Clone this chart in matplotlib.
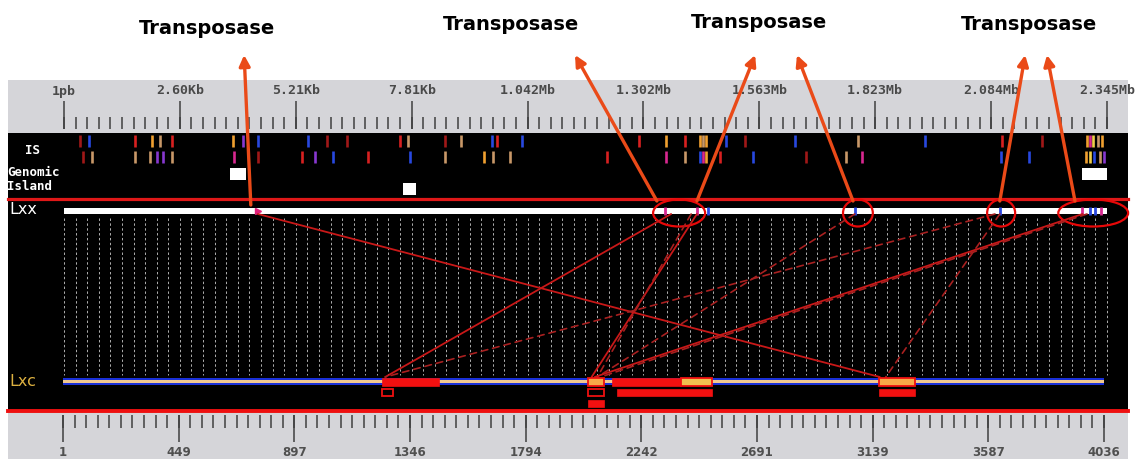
import matplotlib
matplotlib.use('Agg')
import matplotlib.pyplot as plt
from matplotlib.patches import Rectangle, Ellipse, ConnectionPatch
import numpy as np

W, H = 1135, 459

# ---- genome sizes (kb) ----
LXX_LEN = 2345
LXC_LEN = 4036

lxx_ticklabels = ['1pb', '2.60Kb', '5.21Kb', '7.81Kb', '1.042Mb', '1.302Mb',
                  '1.563Mb', '1.823Mb', '2.084Mb', '2.345Mb']
lxc_ticks = [1, 449, 897, 1346, 1794, 2242, 2691, 3139, 3587, 4036]

# IS elements on Lxx (kb), two rows
is_row1_pos = [36, 56, 160, 198, 216, 243, 380, 402, 436, 549, 591, 636, 755, 773,
               857, 893, 962, 974, 1030, 1293, 1354, 1396, 1430, 1437, 1443, 1488,
               1531, 1644, 1785, 1936, 2109, 2199, 2300, 2307, 2314, 2325, 2334]
is_row1_fam = ['dr', 'b', 'r', 'o', 't', 'r', 'o', 'p', 'b', 'b', 'dr', 'dr', 'r', 't',
               'dr', 't', 'b', 'r', 'b', 'r', 'o', 'r', 'o', 't', 'o', 'b',
               'dr', 'b', 't', 'b', 'r', 'dr', 'o', 'm', 'y', 't', 'o']
is_row2_pos = [43, 63, 160, 193, 209, 223, 243, 382, 436, 535, 564, 605, 684, 778,
               857, 944, 965, 1003, 1221, 1354, 1396, 1430, 1437, 1443, 1475, 1549,
               1668, 1758, 1794, 2107, 2170, 2298, 2307, 2316, 2329, 2338]
is_row2_fam = ['dr', 't', 't', 't', 'p', 'p', 't', 'm', 'dr', 'r', 'p', 'b', 'r', 'b',
               't', 'o', 't', 't', 'r', 'm', 't', 'b', 'm', 'o', 'r', 'b',
               'dr', 't', 'm', 'b', 'b', 'o', 'y', 'b', 't', 'p']

# genomic islands on Lxx (kb start, end, lane)
island_start = [373, 762, 2289]
island_end = [409, 791, 2345]
island_lane = [0, 1, 0]

# features marked on the Lxx line
lxx_mark_pos = [1351, 1423, 1448, 1778, 2104, 2289, 2307, 2318, 2332]
lxx_mark_fam = ['m', 'm', 'b', 'b', 'b', 'm', 'b', 'b', 'm']
lxx_tri_pos = [436]

# transposase circles on Lxx (centre kb, width kb)
circle_pos = [1383, 1785, 2107, 2314]
circle_w = [117, 67, 63, 157]

# arrows: from Lxx position to label
arrow_from = [420, 1333, 1423, 1774, 2104, 2273]
arrow_to = [405, 1149, 1554, 1648, 2161, 2210]
label_pos = [321, 1005, 1563, 2170]

# homologous segments on Lxc (kb start, end, kind) per lane
lane1_start = [1236, 2035, 2128, 2395, 3163]
lane1_end = [1457, 2097, 2395, 2516, 3302]
lane1_kind = ['red', 'orange', 'red', 'yellow', 'orange']
lane2_start = [1236, 2035, 2147, 3163]
lane2_end = [1279, 2097, 2516, 3302]
lane2_kind = ['outline', 'outline', 'red', 'red']
lane3_start = [2035]
lane3_end = [2097]
lane3_kind = ['red']

# links Lxx kb -> Lxc kb
link_lxx = [436, 1365, 1423, 1410, 1778, 2093, 2290, 2104, 2300]
link_lxc = [3167, 1250, 2050, 2072, 2072, 1250, 2062, 3190, 2085]
link_dashed = [False, False, False, True, True, True, False, True, True]

fam_color = {'dr': '#a01818', 'r': '#d82020', 'b': '#2848e0', 'o': '#f0a030',
             't': '#c89868', 'p': '#8838d0', 'm': '#d82890', 'y': '#f0d048'}
kind_face = {'red': '#f21010', 'orange': '#f8a848', 'yellow': '#f0c050', 'outline': 'none'}

fig = plt.figure(figsize=(W / 100, H / 100), dpi=100)
fig.patch.set_facecolor('white')

bg = fig.add_axes([0, 0, 1, 1])
bg.set_xlim(0, W)
bg.set_ylim(H, 0)
bg.axis('off')


def place(ax, lo, hi, px_lo, px_hi):
    s = (hi - lo) / (px_hi - px_lo)
    ax.set_xlim(lo - px_lo * s, lo + (W - px_lo) * s)
    ax.set_ylim(H, 0)
    ax.axis('off')
    ax.patch.set_alpha(0)


ax_xx = fig.add_axes([0, 0, 1, 1])
place(ax_xx, 0, LXX_LEN, 64, 1107)
ax_xc = fig.add_axes([0, 0, 1, 1])
place(ax_xc, 1, LXC_LEN, 63, 1104)

# background panels
bg.add_patch(Rectangle((8, 80), 1120, 54, color='#d5d5d9', lw=0))
bg.add_patch(Rectangle((8, 133), 1120, 279, color='black', lw=0))
bg.add_patch(Rectangle((8, 412), 1120, 47, color='#d5d5d9', lw=0))
bg.plot([8, 1128], [198.5, 198.5], color='#e01818', lw=2.3)
bg.plot([8, 1128], [411, 411], color='#ee1010', lw=2.8)

bg.text(33, 150, 'IS', color='white', family='DejaVu Sans Mono', weight='bold',
        fontsize=9, ha='center', va='center')
bg.text(7, 172, 'Genomic', color='white', family='DejaVu Sans Mono', weight='bold',
        fontsize=9, ha='left', va='center')
bg.text(7, 186, 'Island', color='white', family='DejaVu Sans Mono', weight='bold',
        fontsize=9, ha='left', va='center')
bg.text(9, 210, 'Lxx', color='white', fontsize=11.5, ha='left', va='center')
bg.text(9, 382, 'Lxc', color='#dcb040', fontsize=11.5, ha='left', va='center')

# top scale (Lxx)
major = np.linspace(0, LXX_LEN, 10)
minor = np.linspace(0, LXX_LEN, 91)
ax_xx.vlines(minor, 117, 129, color='#404040', lw=1.1)
ax_xx.vlines(major, 101, 129, color='#404040', lw=1.1)
for x, lab in zip(major, lxx_ticklabels):
    ax_xx.text(x, 91, lab, ha='center', va='center', family='DejaVu Sans Mono',
               weight='bold', fontsize=9.5, color='#4a4a4a')

# bottom scale (Lxc)
cmin = np.linspace(lxc_ticks[0], lxc_ticks[-1], 91)
ax_xc.vlines(cmin, 415, 428, color='#404040', lw=1.1)
ax_xc.vlines(lxc_ticks, 415, 442, color='#404040', lw=1.1)
for x in lxc_ticks:
    ax_xc.text(x, 452, str(x), ha='center', va='center', weight='bold',
               fontsize=8.5, color='#505050')

# IS tracks
ax_xx.vlines(is_row1_pos, 135, 147, colors=[fam_color[f] for f in is_row1_fam], lw=1.9)
ax_xx.vlines(is_row2_pos, 151, 163, colors=[fam_color[f] for f in is_row2_fam], lw=1.9)
for s, e, ln in zip(island_start, island_end, island_lane):
    y = 168 if ln == 0 else 183
    ax_xx.add_patch(Rectangle((s, y), e - s, 12, color='white', lw=0))

# dotted grid
ax_xx.vlines(minor, 218, 375, color='#b0b0b0', lw=0.7, linestyles=(0, (2.5, 2.5)))

# Lxx line
ax_xx.add_patch(Rectangle((0, 208), LXX_LEN, 5.5, color='white', lw=0, zorder=3))
ax_xx.vlines(lxx_mark_pos, 207, 215, colors=[fam_color[f] for f in lxx_mark_fam],
             lw=2, zorder=4)
ax_xx.plot(lxx_tri_pos, [211] * len(lxx_tri_pos), marker='>', ms=5, color='#e0207a',
           ls='none', zorder=4)

# Lxc line
ax_xc.add_patch(Rectangle((1, 378), LXC_LEN - 1, 7, color='#1a30d8', lw=0, zorder=3))
ax_xc.add_patch(Rectangle((1, 380.3), LXC_LEN - 1, 2.4, color='#f0c890', lw=0, zorder=3))

# links
for a, b, d in zip(link_lxx, link_lxc, link_dashed):
    con = ConnectionPatch(xyA=(a, 214), coordsA=ax_xx.transData,
                          xyB=(b, 377), coordsB=ax_xc.transData,
                          color='#a82020' if d else '#c81818',
                          lw=1.2 if d else 1.3,
                          ls=(0, (4, 3)) if d else '-', zorder=2)
    ax_xc.add_artist(con)


# Lxc segments
def lane(starts, ends, kinds, y, h):
    for s, e, k in zip(starts, ends, kinds):
        edge = '#f01010'
        ax_xc.add_patch(Rectangle((s, y), e - s, h, facecolor=kind_face[k],
                                  edgecolor=edge, lw=1.3 if k != 'red' else 0.5,
                                  zorder=5))


lane(lane1_start, lane1_end, lane1_kind, 377.5, 8.5)
lane(lane2_start, lane2_end, lane2_kind, 388.5, 7)
lane(lane3_start, lane3_end, lane3_kind, 399.5, 7.5)

# circles and arrows
for c, w in zip(circle_pos, circle_w):
    ax_xx.add_patch(Ellipse((c, 213), w, 27, fill=False, ec='#e80808', lw=1.6, zorder=6))

for a, t in zip(arrow_from, arrow_to):
    ax_xx.annotate('', xy=(t, 55), xytext=(a, 201 if a != arrow_from[0] else 205),
                   arrowprops=dict(arrowstyle='-|>', color='#ea4a18', lw=2.4,
                                   mutation_scale=16, shrinkA=0, shrinkB=0),
                   zorder=7)

for x, y in zip(label_pos, [29, 24, 22, 25]):
    ax_xx.text(x, y, 'Transposase', ha='center', va='center', weight='bold',
               fontsize=14, color='black')

fig.savefig('out.png', dpi=100)
